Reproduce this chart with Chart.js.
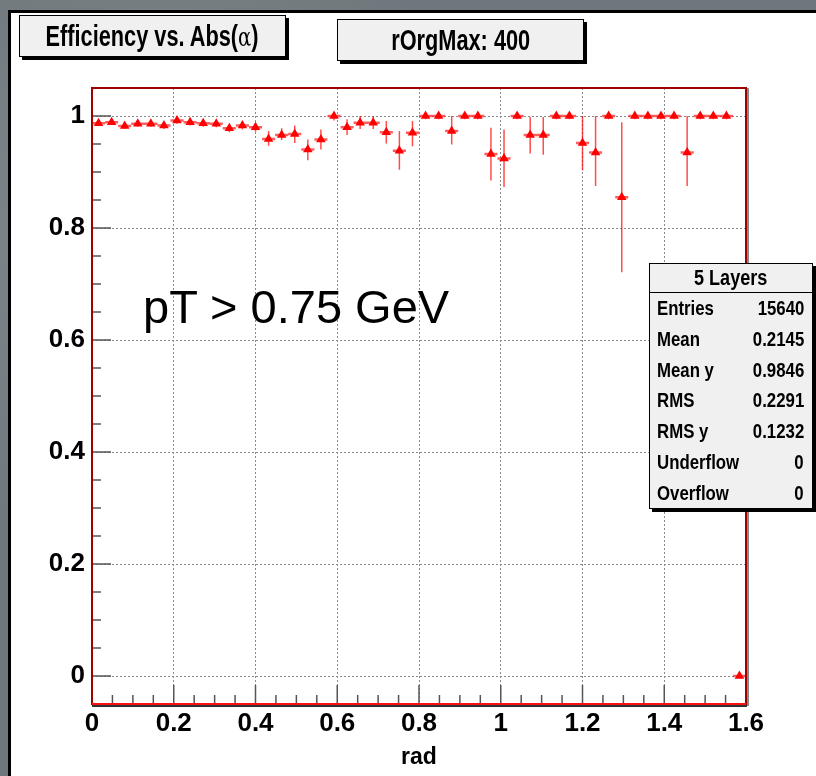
<!DOCTYPE html>
<html>
<head>
<meta charset="utf-8">
<script src="https://cdn.jsdelivr.net/npm/chart.js@4.4.1/dist/chart.umd.min.js"></script>
<style>
  html, body { margin: 0; padding: 0; }
  body {
    width: 816px; height: 776px; overflow: hidden; position: relative;
    background-color: #6f777c;
    background-image:
      radial-gradient(circle at 20% 30%, rgba(255,255,255,0.15), transparent 40%),
      radial-gradient(circle at 70% 80%, rgba(0,0,0,0.2), transparent 45%);
  }
  #pad {
    position: absolute; left: 8px; top: 10px; width: 820px; height: 780px;
    background: #fff; border-left: 3px solid #000; border-top: 3px solid #000;
  }
  #chart { position: absolute; left: 0; top: 0; }
  .box {
    position: absolute; background: #f0f0f0; border: 1px solid #000;
    box-shadow: 3px 3px 0 #000; color: #000;
    font-family: 'Liberation Sans Narrow', 'Arial Narrow', 'Liberation Sans', sans-serif;
    font-weight: bold;
  }
  .titlebox { display: flex; align-items: center; justify-content: center; font-size: 29px; }
  .titlebox > span { display: inline-block; transform: scaleX(0.75); white-space: nowrap; }
  .alpha { font-weight: normal; font-family: 'DejaVu Serif', serif; font-size: 26px; }
  #stats { left: 649px; top: 263px; width: 162px; height: 244px; font-size: 21px; }
  #stats .head { height: 28px; line-height: 28px; text-align: center; border-bottom: 1px solid #000; font-size: 22px; }
  #stats .head span { display: inline-block; transform: scaleX(0.82); }
  #stats .row { display: flex; justify-content: space-between; height: 30.8px; line-height: 30.8px; padding: 0 8px 0 7px; }
  #stats .row span { display: inline-block; transform: scaleX(0.8); white-space: nowrap; }
  #stats .row span:first-child { transform-origin: left center; }
  #stats .row span:last-child { transform-origin: right center; }
  #note {
    position: absolute; left: 143px; top: 279px; font-family: 'Liberation Sans', Arial, sans-serif;
    font-size: 47px; color: #000; white-space: nowrap; line-height: 56px;
  }
</style>
</head>
<body>
<div id="pad"></div>
<canvas id="chart" width="816" height="776"></canvas>
<div class="box titlebox" style="left:19px; top:15px; width:265px; height:40px;"><span>Efficiency vs. Abs(<span class="alpha">α</span>)</span></div>
<div class="box titlebox" style="left:337px; top:19px; width:245px; height:40px;"><span>rOrgMax: 400</span></div>
<div id="note">pT &gt; 0.75 GeV</div>
<div class="box" id="stats">
  <div class="head"><span>5 Layers</span></div>
  <div class="row"><span>Entries</span><span>15640</span></div>
  <div class="row"><span>Mean</span><span>0.2145</span></div>
  <div class="row"><span>Mean y</span><span>0.9846</span></div>
  <div class="row"><span>RMS</span><span>0.2291</span></div>
  <div class="row"><span>RMS y</span><span>0.1232</span></div>
  <div class="row"><span>Underflow</span><span>0</span></div>
  <div class="row"><span>Overflow</span><span>0</span></div>
</div>
<script>
// bin centres (rad), 50 bins of width 0.032
const binCenters = [0.016, 0.048, 0.080, 0.112, 0.144, 0.176, 0.208, 0.240, 0.272, 0.304,
  0.336, 0.368, 0.400, 0.432, 0.464, 0.496, 0.528, 0.560, 0.592, 0.624,
  0.656, 0.688, 0.720, 0.752, 0.784, 0.816, 0.848, 0.880, 0.912, 0.944,
  0.976, 1.008, 1.040, 1.072, 1.104, 1.136, 1.168, 1.200, 1.232, 1.264,
  1.296, 1.328, 1.360, 1.392, 1.424, 1.456, 1.488, 1.520, 1.552, 1.584];
const binHalfWidth = 0.016;

const efficiency = [0.987, 0.989, 0.982, 0.986, 0.986, 0.983, 0.992, 0.989, 0.987, 0.986,
  0.978, 0.983, 0.980, 0.959, 0.966, 0.968, 0.940, 0.958, 1.000, 0.980,
  0.988, 0.988, 0.971, 0.938, 0.970, 1.000, 1.000, 0.973, 1.000, 1.000,
  0.932, 0.924, 1.000, 0.966, 0.966, 1.000, 1.000, 0.952, 0.935, 1.000,
  0.855, 1.000, 1.000, 1.000, 1.000, 0.935, 1.000, 1.000, 1.000, 0.000];

// lower / upper ends of the error bars
const errLow = [0.982, 0.984, 0.977, 0.981, 0.981, 0.977, 0.986, 0.983, 0.981, 0.980,
  0.971, 0.976, 0.972, 0.947, 0.957, 0.952, 0.921, 0.940, 0.992, 0.966,
  0.977, 0.977, 0.951, 0.904, 0.946, 0.994, 0.994, 0.949, 0.994, 0.994,
  0.885, 0.873, 0.994, 0.933, 0.931, 0.994, 0.994, 0.903, 0.875, 0.994,
  0.721, 0.994, 0.994, 0.994, 0.994, 0.875, 0.994, 0.994, 0.994, 0.000];
const errHigh = [0.991, 0.993, 0.987, 0.990, 0.990, 0.988, 0.997, 0.994, 0.992, 0.991,
  0.984, 0.989, 0.987, 0.973, 0.978, 0.983, 0.958, 0.976, 1.000, 0.994,
  1.000, 1.000, 0.991, 0.973, 0.991, 1.000, 1.000, 1.000, 1.000, 1.000,
  0.979, 0.976, 1.000, 0.998, 0.998, 1.000, 1.000, 1.000, 1.000, 1.000,
  0.989, 1.000, 1.000, 1.000, 1.000, 1.000, 1.000, 1.000, 1.000, 0.000];

const xTicks = [0, 0.05, 0.1, 0.15, 0.2, 0.25, 0.3, 0.35, 0.4, 0.45, 0.5, 0.55, 0.6, 0.65, 0.7, 0.75,
  0.8, 0.85, 0.9, 0.95, 1.0, 1.05, 1.1, 1.15, 1.2, 1.25, 1.3, 1.35, 1.4, 1.45, 1.5, 1.55, 1.6];
const yTicks = [0, 0.05, 0.1, 0.15, 0.2, 0.25, 0.3, 0.35, 0.4, 0.45, 0.5, 0.55, 0.6, 0.65, 0.7, 0.75,
  0.8, 0.85, 0.9, 0.95, 1.0];

const isMajor = v => Math.abs(v * 5 - Math.round(v * 5)) < 1e-6;
const fmt = v => String(Math.round(v * 10) / 10);

// error bars as broken line segments
const hBars = [], vBars = [];
binCenters.forEach((x, i) => {
  hBars.push({x: x - binHalfWidth, y: efficiency[i]}, {x: x + binHalfWidth, y: efficiency[i]}, {x: x, y: NaN});
  if (errHigh[i] > errLow[i]) {
    vBars.push({x: x, y: errLow[i]}, {x: x, y: errHigh[i]}, {x: x, y: NaN});
  }
});
const points = binCenters.map((x, i) => ({x: x, y: efficiency[i]}));

// ROOT style frame and inner tick marks
const frameAndTicks = {
  id: 'frameAndTicks',
  afterDatasetsDraw(chart) {
    const {ctx, chartArea: a, scales} = chart;
    ctx.save();
    ctx.strokeStyle = '#555';
    ctx.lineWidth = 1.5;
    scales.y.ticks.forEach(t => {
      const py = scales.y.getPixelForValue(t.value);
      const len = isMajor(t.value) ? 19 : 9;
      ctx.beginPath(); ctx.moveTo(a.left, py); ctx.lineTo(a.left + len, py); ctx.stroke();
    });
    scales.x.ticks.forEach(t => {
      if (t.value <= 0 || t.value >= 1.6) return;
      const px = scales.x.getPixelForValue(t.value);
      const len = isMajor(t.value) ? 19 : 9;
      ctx.beginPath(); ctx.moveTo(px, a.bottom); ctx.lineTo(px, a.bottom - len); ctx.stroke();
    });
    ctx.lineWidth = 2;
    ctx.strokeStyle = '#333';
    ctx.beginPath(); ctx.moveTo(a.left, a.bottom + 2); ctx.lineTo(a.right + 1, a.bottom + 2); ctx.stroke();
    ctx.strokeStyle = '#888';
    ctx.beginPath(); ctx.moveTo(a.right + 2, a.top); ctx.lineTo(a.right + 2, a.bottom + 2); ctx.stroke();
    ctx.strokeStyle = '#a00000';
    ctx.strokeRect(a.left, a.top, a.right - a.left, a.bottom - a.top);
    ctx.strokeStyle = '#ff1010';
    ctx.beginPath(); ctx.moveTo(a.left, a.bottom); ctx.lineTo(a.right, a.bottom); ctx.stroke();
    ctx.restore();
  }
};

const tickFont = {family: "'Liberation Sans Narrow', 'Arial Narrow', sans-serif", weight: 'bold', size: 26};

new Chart(document.getElementById('chart'), {
  type: 'scatter',
  data: {
    datasets: [
      {
        label: '5 Layers',
        data: points,
        pointStyle: 'triangle',
        pointRadius: 5.5,
        backgroundColor: '#ff0000',
        borderColor: '#ff0000',
        borderWidth: 0,
        order: 0
      },
      {
        data: hBars,
        showLine: true,
        spanGaps: false,
        pointRadius: 0,
        borderColor: 'rgba(255, 40, 40, 0.75)',
        borderWidth: 2.5,
        order: 1
      },
      {
        data: vBars,
        showLine: true,
        spanGaps: false,
        pointRadius: 0,
        borderColor: 'rgba(255, 0, 0, 0.7)',
        borderWidth: 1.5,
        order: 2
      }
    ]
  },
  options: {
    responsive: false,
    animation: false,
    devicePixelRatio: 1,
    layout: {padding: {top: 88, right: 70, left: 0, bottom: 0}},
    plugins: {legend: {display: false}, tooltip: {enabled: false}},
    scales: {
      x: {
        type: 'linear',
        min: 0,
        max: 1.6,
        afterBuildTicks: s => { s.ticks = xTicks.map(v => ({value: v})); },
        afterFit: s => { s.height = 72; },
        grid: {
          drawTicks: false,
          lineWidth: 1,
          color: c => (c.tick && isMajor(c.tick.value) && c.tick.value > 0 && c.tick.value < 1.6) ? '#8a8a8a' : 'rgba(0,0,0,0)'
        },
        border: {display: false, dash: [2, 2]},
        ticks: {
          autoSkip: false,
          maxRotation: 0,
          padding: 4,
          color: '#000',
          font: tickFont,
          callback: v => isMajor(v) ? fmt(v) : ''
        },
        title: {
          display: true,
          text: 'rad',
          color: '#000',
          font: {family: "'Liberation Sans Narrow', 'Arial Narrow', sans-serif", weight: 'bold', size: 23},
          padding: {top: 0, bottom: 5}
        }
      },
      y: {
        type: 'linear',
        min: -0.05,
        max: 1.05,
        afterBuildTicks: s => { s.ticks = yTicks.map(v => ({value: v})); },
        afterFit: s => { s.width = 92; },
        grid: {
          drawTicks: false,
          lineWidth: 1,
          color: c => (c.tick && isMajor(c.tick.value)) ? '#8a8a8a' : 'rgba(0,0,0,0)'
        },
        border: {display: false, dash: [2, 2]},
        ticks: {
          autoSkip: false,
          padding: 7,
          color: '#000',
          font: tickFont,
          callback: v => isMajor(v) ? fmt(v) : ''
        }
      }
    }
  },
  plugins: [frameAndTicks]
});
</script>
</body>
</html>
